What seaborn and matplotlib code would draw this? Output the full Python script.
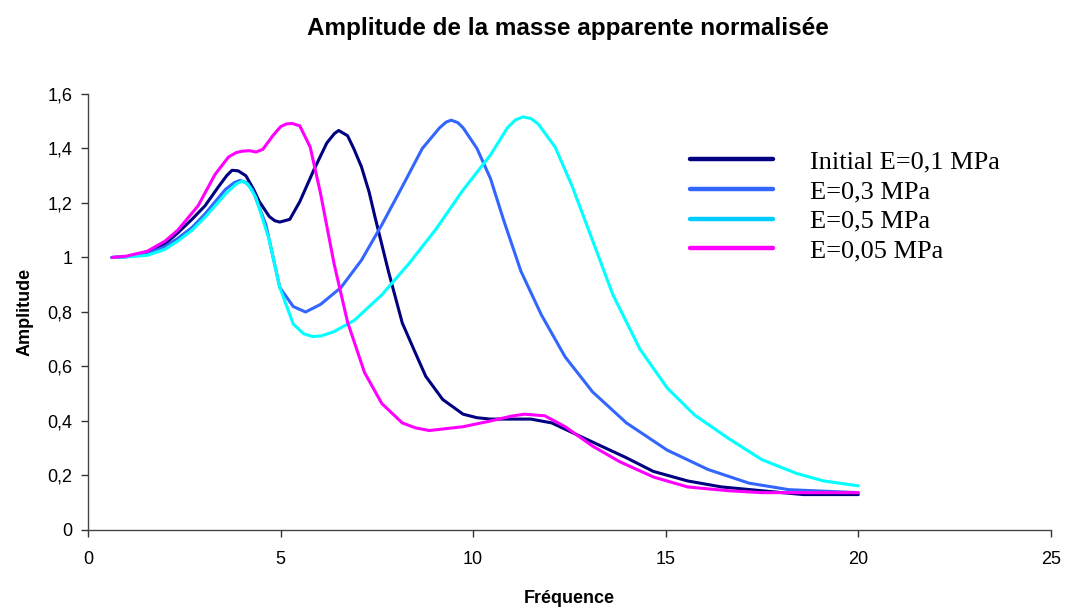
import pandas as pd
import seaborn as sns
import matplotlib.pyplot as plt

# Data
freq_initial = [0.62, 1.0, 1.54, 2.0, 2.33, 2.7, 3.04, 3.39, 3.6, 3.74, 3.9, 4.1, 4.3, 4.45, 4.71, 4.85, 4.98,
                5.24, 5.5, 5.86, 6.2, 6.4, 6.51, 6.74, 6.9, 7.1, 7.3, 7.45, 7.8, 8.16, 8.5, 8.77, 9.21, 9.74,
                10.1, 10.45, 11.5, 12.04, 12.9, 13.98, 14.68, 15.57, 16.45, 17.5, 18.57, 20.0]
amp_initial = [1.0, 1.003, 1.02, 1.05, 1.09, 1.14, 1.19, 1.26, 1.30, 1.32, 1.318, 1.30, 1.25, 1.205, 1.15, 1.135,
               1.13, 1.14, 1.205, 1.32, 1.42, 1.455, 1.466, 1.447, 1.40, 1.333, 1.24, 1.15, 0.95, 0.76, 0.65,
               0.564, 0.479, 0.425, 0.412, 0.407, 0.407, 0.393, 0.336, 0.265, 0.215, 0.18, 0.158, 0.144, 0.13,
               0.13]

freq_e03 = [0.62, 1.0, 1.54, 2.0, 2.33, 2.7, 3.04, 3.57, 3.8, 3.95, 4.1, 4.27, 4.62, 4.98, 5.33, 5.65, 6.04,
            6.57, 7.1, 7.63, 8.16, 8.68, 9.13, 9.3, 9.43, 9.6, 9.74, 10.1, 10.45, 10.8, 11.24, 11.77, 12.39,
            13.1, 13.98, 15.04, 16.1, 17.16, 18.2, 20.0]
amp_e03 = [1.0, 1.003, 1.013, 1.04, 1.07, 1.11, 1.16, 1.25, 1.275, 1.283, 1.275, 1.25, 1.12, 0.89, 0.82, 0.80,
           0.828, 0.89, 0.99, 1.12, 1.26, 1.40, 1.476, 1.497, 1.504, 1.495, 1.476, 1.40, 1.29, 1.134, 0.95,
           0.79, 0.635, 0.507, 0.393, 0.293, 0.222, 0.172, 0.148, 0.137]

freq_e05 = [0.62, 1.0, 1.54, 2.0, 2.33, 2.7, 3.04, 3.57, 3.85, 4.0, 4.15, 4.36, 4.71, 4.98, 5.33, 5.6, 5.83,
            6.05, 6.39, 6.92, 7.63, 8.33, 9.04, 9.74, 10.45, 10.89, 11.1, 11.3, 11.5, 11.69, 12.13, 12.57,
            13.1, 13.63, 14.33, 15.04, 15.75, 16.63, 17.5, 18.39, 19.1, 20.0]
amp_e05 = [1.0, 1.002, 1.008, 1.03, 1.06, 1.10, 1.148, 1.233, 1.27, 1.28, 1.27, 1.22, 1.063, 0.89, 0.756, 0.72,
           0.71, 0.712, 0.728, 0.77, 0.863, 0.977, 1.105, 1.248, 1.376, 1.476, 1.505, 1.516, 1.51, 1.49,
           1.405, 1.262, 1.063, 0.863, 0.664, 0.521, 0.422, 0.336, 0.258, 0.208, 0.18, 0.162]

freq_e005 = [0.62, 1.0, 1.54, 2.0, 2.33, 2.86, 3.3, 3.65, 3.85, 4.0, 4.2, 4.36, 4.54, 4.8, 5.0, 5.15, 5.3,
             5.5, 5.77, 6.04, 6.39, 6.74, 7.18, 7.63, 8.16, 8.5, 8.86, 9.74, 10.45, 11.0, 11.33, 11.86,
             12.39, 13.1, 13.8, 14.69, 15.57, 16.63, 17.5, 20.0]
amp_e005 = [1.0, 1.005, 1.023, 1.06, 1.10, 1.19, 1.305, 1.369, 1.385, 1.39, 1.392, 1.387, 1.397, 1.447, 1.48,
            1.49, 1.492, 1.483, 1.405, 1.234, 0.977, 0.763, 0.578, 0.464, 0.393, 0.375, 0.365, 0.379, 0.40,
            0.418, 0.425, 0.419, 0.379, 0.308, 0.251, 0.194, 0.158, 0.144, 0.137, 0.137]

series_names = ["Initial E=0,1 MPa", "E=0,3 MPa", "E=0,5 MPa", "E=0,05 MPa"]
line_colors = ["#000080", "#3366FF", "#00FFFF", "#FF00FF"]
legend_colors = ["#000080", "#3366FF", "#00CCFF", "#FF00FF"]
x_ticks = [0, 5, 10, 15, 20, 25]
y_ticks = [0, 0.2, 0.4, 0.6, 0.8, 1.0, 1.2, 1.4, 1.6]
y_ticklabels = ["0", "0,2", "0,4", "0,6", "0,8", "1", "1,2", "1,4", "1,6"]

# long table for seaborn
frames = []
for name, f, a in zip(series_names,
                      [freq_initial, freq_e03, freq_e05, freq_e005],
                      [amp_initial, amp_e03, amp_e05, amp_e005]):
    frames.append(pd.DataFrame({"Fréquence": f, "Amplitude": a, "serie": name}))
df = pd.concat(frames, ignore_index=True)

sns.set_style("ticks")
plt.rcParams["font.family"] = ["Liberation Sans", "DejaVu Sans"]
plt.rcParams["text.color"] = "black"
plt.rcParams["axes.labelcolor"] = "black"

fig = plt.figure(figsize=(10.69, 6.08), dpi=100)
ax = fig.add_axes([0.0823, 0.1283, 0.9007, 0.7171])

sns.lineplot(data=df, x="Fréquence", y="Amplitude", hue="serie", hue_order=series_names,
             palette=dict(zip(series_names, line_colors)), estimator=None, sort=False,
             linewidth=2.2, ax=ax)

ax.set_xlim(0, 25)
ax.set_ylim(0, 1.6)
ax.set_xticks(x_ticks)
ax.set_xticklabels([str(t) for t in x_ticks], fontsize=13)
ax.set_yticks(y_ticks)
ax.set_yticklabels(y_ticklabels, fontsize=13)
ax.tick_params(direction="out", length=5, width=1, colors="#333333", labelcolor="black")
ax.tick_params(axis="x", pad=10)
ax.tick_params(axis="y", pad=6)
for side in ["top", "right"]:
    ax.spines[side].set_visible(False)
for side in ["left", "bottom"]:
    ax.spines[side].set_color("#444444")
    ax.spines[side].set_linewidth(1)

ax.set_xlabel("Fréquence", fontsize=13, fontweight="bold", labelpad=16)
ax.set_ylabel("Amplitude", fontsize=13, fontweight="bold", labelpad=10)
fig.suptitle("Amplitude de la masse apparente normalisée", fontsize=17.5, fontweight="bold",
             x=0.531, y=0.972, color="black")

leg = ax.legend(loc="upper left", bbox_to_anchor=(0.625, 0.872), frameon=False,
                prop={"family": "Liberation Serif", "size": 19},
                handlelength=3.15, handletextpad=1.4, labelspacing=0.24,
                borderpad=0, borderaxespad=0)
for line, c in zip(leg.get_lines(), legend_colors):
    line.set_color(c)
    line.set_linewidth(3.2)

fig.savefig("out.png", dpi=100)
